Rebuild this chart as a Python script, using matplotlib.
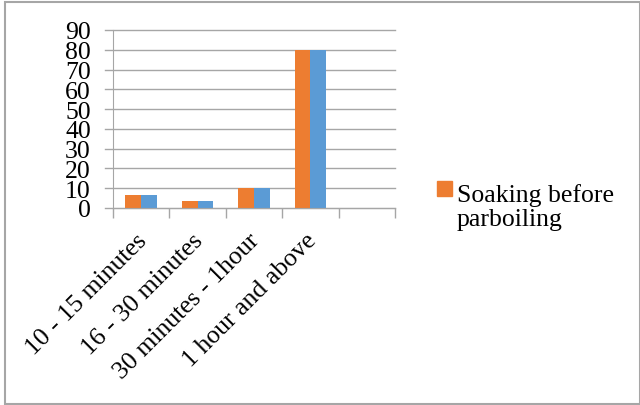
import matplotlib.pyplot as plt
from matplotlib.patches import Rectangle

categories = ["10 - 15 minutes", "16 - 30 minutes", "30 minutes - 1hour", "1 hour and above", ""]
soaking = [6.7, 3.3, 10, 80, None]
second_series = [6.7, 3.3, 10, 80, None]
yticks = [0, 10, 20, 30, 40, 50, 60, 70, 80, 90]
legend_label = "Soaking before\nparboiling"

ORANGE = "#ED7D31"
BLUE = "#5B9BD5"
GRID = "#A6A6A6"
FS = 18.5

plt.rcParams["font.family"] = ["Liberation Serif", "DejaVu Serif"]

W, H = 640, 406
fig = plt.figure(figsize=(W / 100, H / 100), dpi=100)

# plot area in pixel coords
left, right, top, bottom = 113, 395, 31, 209
ax = fig.add_axes([left / W, 1 - bottom / H, (right - left) / W, (bottom - top) / H])

n = len(categories)
bw = 0.28
for i in range(n):
    if soaking[i] is not None:
        ax.bar(i + 0.5 - bw / 2, soaking[i], width=bw, color=ORANGE, align="center")
    if second_series[i] is not None:
        ax.bar(i + 0.5 + bw / 2, second_series[i], width=bw, color=BLUE, align="center")

ax.set_xlim(0, n)
ax.set_ylim(0, 90)
ax.set_yticks(yticks)
ax.set_yticklabels([str(v) for v in yticks], fontsize=FS)
ax.yaxis.set_tick_params(length=0, pad=16)
for v in yticks:
    ax.plot([-0.14, n], [v, v], color=GRID, lw=1, clip_on=False, zorder=0)

ax.set_xticks(range(n + 1))
ax.set_xticklabels([])
ax.tick_params(axis="x", length=7, color=GRID, width=1, direction="out")
for s in ["top", "right"]:
    ax.spines[s].set_visible(False)
ax.spines["left"].set_color(GRID)
ax.spines["bottom"].set_color(GRID)

for i, c in enumerate(categories):
    if c:
        ax.text(i + 0.4, -10.5, c, rotation=45, ha="right", va="top",
                rotation_mode="anchor", fontsize=FS)

# legend: orange swatch + two-line label (baseline = last line)
fig.patches.append(Rectangle((437 / W, 1 - 197 / H), 15 / W, 15 / H,
                             transform=fig.transFigure, color=ORANGE))
fig.text(457 / W, 1 - 226 / H, legend_label, fontsize=FS, ha="left",
         va="baseline", linespacing=1.13, multialignment="left")

fig.patches.append(Rectangle((4.5 / W, 1 - 405 / H), (W - 4.5) / W, (405 - 2.5) / H,
                             transform=fig.transFigure, fill=False,
                             edgecolor="#A6A6A6", lw=1.5))

fig.savefig("out.png", dpi=100)
